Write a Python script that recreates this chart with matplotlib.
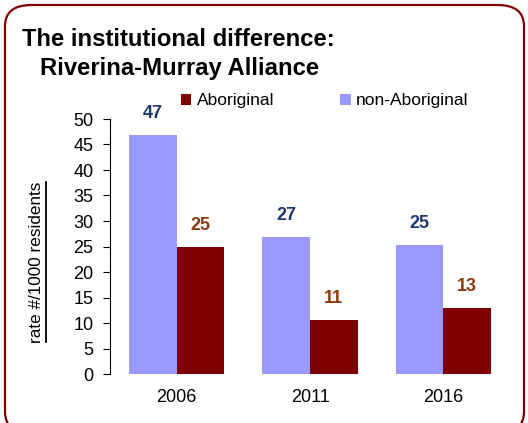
import matplotlib
matplotlib.use("Agg")
import matplotlib.pyplot as plt
from matplotlib.patches import FancyBboxPatch
from matplotlib.lines import Line2D
import numpy as np

plt.rcParams['font.family'] = ['Liberation Sans', 'DejaVu Sans']

years = ['2006', '2011', '2016']
non_aboriginal = [46.8, 26.9, 25.3]
aboriginal = [24.9, 10.6, 12.9]
non_ab_labels = ['47', '27', '25']
ab_labels = ['25', '11', '13']
yticks = [0, 5, 10, 15, 20, 25, 30, 35, 40, 45, 50]

W, H = 528, 423
fig = plt.figure(figsize=(W/100, H/100), dpi=100)

# frame
frame = FancyBboxPatch((5/W, -10/H), 519/W, (H - 5 + 10)/H,
                       boxstyle="round,pad=0,rounding_size=0.05",
                       transform=fig.transFigure, fill=False,
                       edgecolor='#800000', linewidth=1.6, zorder=0)
fig.patches.append(frame)

ax = fig.add_axes([110/W, 1 - 374/H, 400/W, 255/H])
x = np.arange(len(years))
w = 0.357
b1 = ax.bar(x - w, non_aboriginal, width=w, align='edge', color='#9999FF', label='non-Aboriginal')
b2 = ax.bar(x, aboriginal, width=w, align='edge', color='#800000', label='Aboriginal')

for xi, v, lab in zip(x, non_aboriginal, non_ab_labels):
    ax.annotate(lab, (xi - w/2, v), xytext=(0, 9.5), textcoords='offset points',
                ha='center', va='bottom', fontsize=13, fontweight='bold', color='#1F3870')
for xi, v, lab in zip(x, aboriginal, ab_labels):
    ax.annotate(lab, (xi + w/2, v), xytext=(0, 9.5), textcoords='offset points',
                ha='center', va='bottom', fontsize=13, fontweight='bold', color='#8B3A0F')

ax.set_xlim(-0.5, 2.5)
ax.set_ylim(0, 50)
ax.set_yticks(yticks)
ax.set_xticks(x)
ax.set_xticklabels(years)
ax.tick_params(axis='y', direction='out', length=5, width=0.8, labelsize=13, pad=7)
ax.tick_params(axis='x', length=0, labelsize=13, pad=11)
for s in ['top', 'right', 'bottom']:
    ax.spines[s].set_visible(False)
ax.spines['left'].set_linewidth(0.8)

ax.legend(handles=[b2, b1], labels=['Aboriginal', 'non-Aboriginal'], ncol=2,
          loc='center left', bbox_to_anchor=(181/W, 1 - 101/H), bbox_transform=fig.transFigure,
          frameon=False, fontsize=12.5, handlelength=0.6, handleheight=0.6,
          handletextpad=0.3, columnspacing=3.8, borderpad=0, borderaxespad=0)

fig.text(22/W, 1 - 40/H, 'The institutional difference:', fontsize=17.2, fontweight='bold',
         ha='left', va='center')
fig.text(40/W, 1 - 68/H, 'Riverina-Murray Alliance', fontsize=17.2, fontweight='bold',
         ha='left', va='center')

yl = fig.text(37/W, 1 - 262/H, 'rate #/1000 residents', rotation=90, fontsize=12.3,
              ha='center', va='center')
fig.canvas.draw()
bb = yl.get_window_extent().transformed(fig.transFigure.inverted())
fig.add_artist(Line2D([bb.x1 + 1.5/W, bb.x1 + 1.5/W], [bb.y0 + 1/H, bb.y1 - 1/H],
                      transform=fig.transFigure, color='black', linewidth=1.3))

fig.savefig('out.png', dpi=100)
